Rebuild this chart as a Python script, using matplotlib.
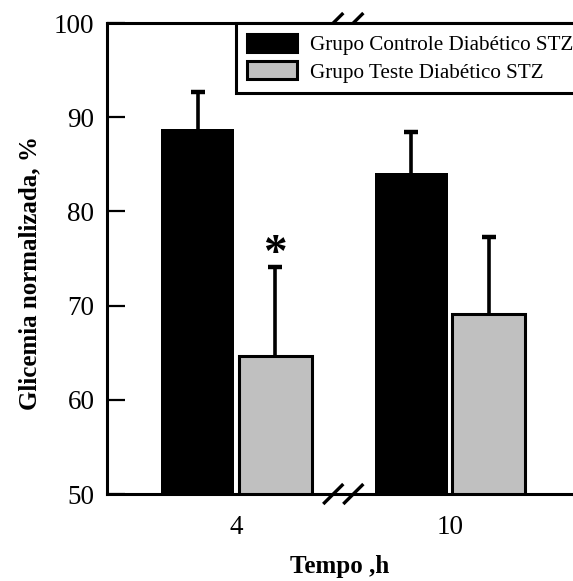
import numpy as np
import matplotlib
matplotlib.use('Agg')
import matplotlib.pyplot as plt
from matplotlib.patches import Patch

plt.rcParams['font.family'] = ['Liberation Serif', 'DejaVu Serif']

# Glicemia normalizada (%) por tempo
tempos = ['4', '10']
controle = [88.7, 84.1]
controle_err = [4.0, 4.3]
teste = [64.65, 69.1]
teste_err = [9.45, 8.2]
significativo = [True, False]

x = np.arange(len(tempos))
largura = 0.342
desloc = 0.1815

fig = plt.figure(figsize=(5.73, 5.81), dpi=100)
ax = fig.add_axes([0.1867, 0.1497, 0.8133, 0.8107])

ax.bar(x - desloc, controle, largura, color='black', zorder=2)
ax.bar(x + desloc, teste, largura, color='#c0c0c0', edgecolor='black',
       linewidth=2.2, zorder=2)

# upper error bars only: stem from bar top plus a cap
for pos, media, erro in [(x - desloc, controle, controle_err), (x + desloc, teste, teste_err)]:
    topo = np.array(media) + np.array(erro)
    ax.vlines(pos, media, topo, color='black', lw=2.6, zorder=3)
    ax.plot(pos, topo, ls='none', marker='_', ms=10, mew=3.2, color='black', zorder=3)

for xi, t, e, s in zip(x, teste, teste_err, significativo):
    if s:
        ax.text(xi + desloc, t + e + 0.1, '*', ha='center', va='baseline',
                fontsize=34, fontweight='bold')

ax.set_ylim(50, 100)
ax.set_xlim(-0.607, 1.576)
ax.set_yticks([50, 60, 70, 80, 90, 100])
ax.set_xticks(x)
ax.set_xticklabels(tempos)
ax.tick_params(axis='y', direction='in', length=13, width=1.6, pad=9, labelsize=19.5)
ax.tick_params(axis='x', length=0, pad=15, labelsize=19.5)

for lado in ['left', 'top', 'bottom']:
    ax.spines[lado].set_linewidth(2.2)
ax.spines['right'].set_visible(False)

ax.set_ylabel('Glicemia normalizada, %', fontsize=18, fontweight='bold')
ax.set_xlabel('Tempo ,h', fontsize=18, fontweight='bold')
ax.yaxis.set_label_coords(-0.14, 0.47)
ax.xaxis.set_label_coords(0.5, -0.13)

# axis break marks on the top and bottom spines
quebra = 0.5
dx, dy = 0.047, 0.0212
tr = ax.get_xaxis_transform()
for yb in (0.0, 1.0):
    for xc in (quebra - 0.047, quebra + 0.047):
        ax.plot([xc - dx, xc + dx], [yb - dy, yb + dy], color='black', lw=2.4,
                transform=tr, clip_on=False, zorder=4, solid_capstyle='butt')

handles = [Patch(facecolor='black', edgecolor='black', linewidth=2.2),
           Patch(facecolor='#c0c0c0', edgecolor='black', linewidth=2.2)]
leg = ax.legend(handles, ['Grupo Controle Diabético STZ', 'Grupo Teste Diabético STZ'],
                loc='upper left', bbox_to_anchor=(0.277, 1.0), borderaxespad=0,
                fontsize=15.2, frameon=True, fancybox=False, framealpha=1,
                handlelength=2.4, handleheight=0.95, handletextpad=0.6,
                borderpad=0.5, labelspacing=0.3)
leg.get_frame().set_edgecolor('black')
leg.get_frame().set_linewidth(2.2)
leg.set_zorder(5)

fig.savefig('out.png', dpi=100)
plt.close(fig)
